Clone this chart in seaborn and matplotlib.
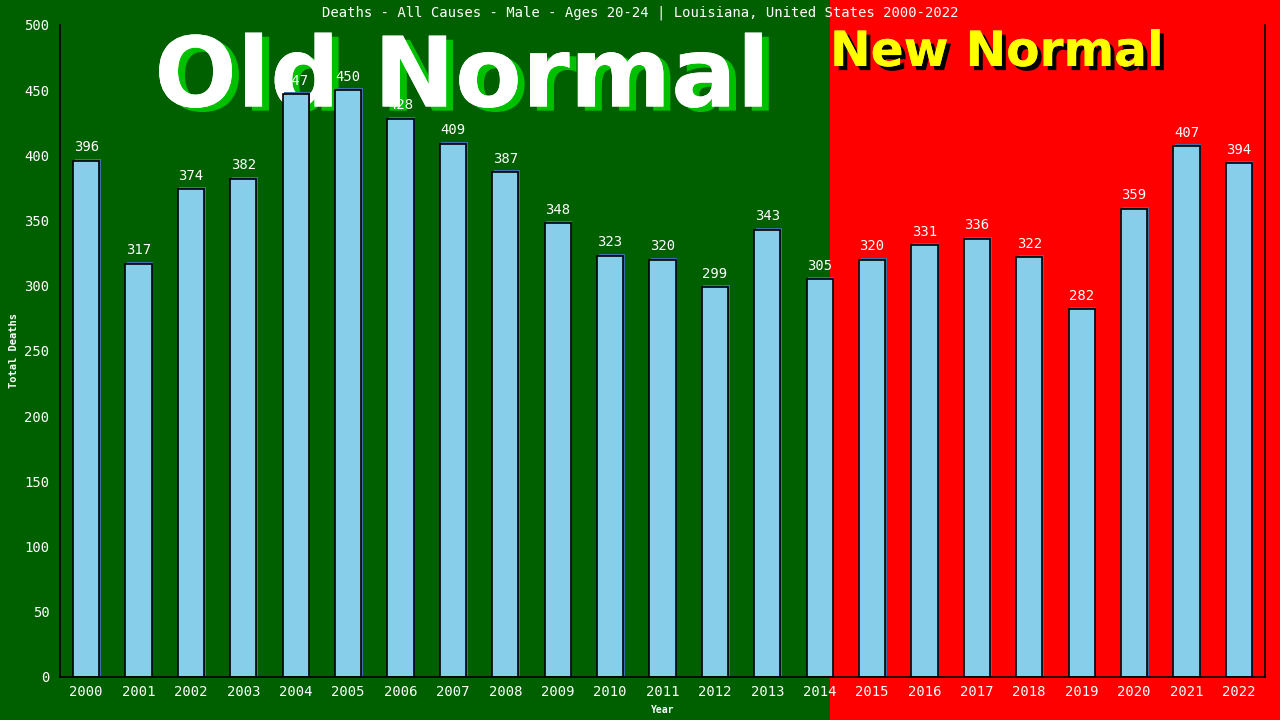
import seaborn as sns
import pandas as pd
import numpy as np
import matplotlib.pyplot as plt
import matplotlib.patheffects as pe
from matplotlib.patches import Rectangle

# data
years = [str(y) for y in range(2000, 2023)]
deaths = [396, 317, 374, 382, 447, 450, 428, 409, 387, 348, 323, 320,
          299, 343, 305, 320, 331, 336, 322, 282, 359, 407, 394]
title = "Deaths - All Causes - Male - Ages 20-24 | Louisiana, United States 2000-2022"

df = pd.DataFrame({'Year': years, 'Deaths': deaths})

sns.set_style('white')
mono = 'DejaVu Sans Mono'

fig = plt.figure(figsize=(12.8, 7.2), dpi=100)
fig.patch.set_facecolor('#ff0000')
# green "old normal" part of the background
fig.patches.append(Rectangle((0, 0), 830 / 1280, 1, transform=fig.transFigure,
                             facecolor='#006000', edgecolor='none', zorder=-10))

ax = fig.add_axes([60 / 1280, 43 / 720, 1205 / 1280, 652 / 720])
ax.set_facecolor('none')

# shadow behind bars
ax.bar(np.arange(len(deaths)) + 0.03, np.array(deaths) + 1.5, width=0.5,
       color='#3f6fa8', edgecolor='none', linewidth=0, zorder=1)
sns.barplot(data=df, x='Year', y='Deaths', color='skyblue', edgecolor='black',
            linewidth=1.2, width=0.5, saturation=1, ax=ax, zorder=2)

for i, v in enumerate(deaths):
    ax.text(i, v + 5, str(v), ha='center', va='bottom', color='white',
            fontsize=10, family=mono, zorder=3)

ax.set_xlim(-0.5, len(deaths) - 0.5)
ax.set_ylim(0, 500)
ax.set_yticks(range(0, 501, 50))
ax.tick_params(axis='y', direction='inout', length=8, width=1, colors='black',
               labelcolor='white', labelsize=10)
ax.tick_params(axis='x', length=0, labelcolor='white', labelsize=10, pad=6)
for lab in ax.get_xticklabels() + ax.get_yticklabels():
    lab.set_family(mono)

for s in ['left', 'bottom', 'right']:
    ax.spines[s].set_color('black')
    ax.spines[s].set_linewidth(1.2)
ax.spines['top'].set_visible(False)

ax.set_xlabel('Year', color='white', fontsize=7, family=mono, fontweight='bold', labelpad=4)
ax.set_ylabel('Total Deaths', color='white', fontsize=7.5, family=mono, fontweight='bold', labelpad=4)

fig.text(0.5, 1 - 13 / 720, title, ha='center', va='center', color='white',
         fontsize=10, family=mono)

# big banner texts, drawn behind the bars
fig.text(462 / 1280, 1 - 80 / 720, 'Old Normal', ha='center', va='center',
         color='white', fontsize=70, fontweight='bold', family='DejaVu Sans', zorder=-5,
         path_effects=[pe.withSimplePatchShadow(offset=(5, -3), shadow_rgbFace='#00c000', alpha=1),
                       pe.Normal()])
fig.text(830 / 1280, 1 - 52 / 720, 'New Normal', ha='left', va='center',
         color='#ffff00', fontsize=35, fontweight='bold', family='DejaVu Sans', zorder=-5,
         path_effects=[pe.withSimplePatchShadow(offset=(3, -3), shadow_rgbFace='black', alpha=1),
                       pe.Normal()])

fig.savefig('out.png', dpi=100, facecolor=fig.get_facecolor())
